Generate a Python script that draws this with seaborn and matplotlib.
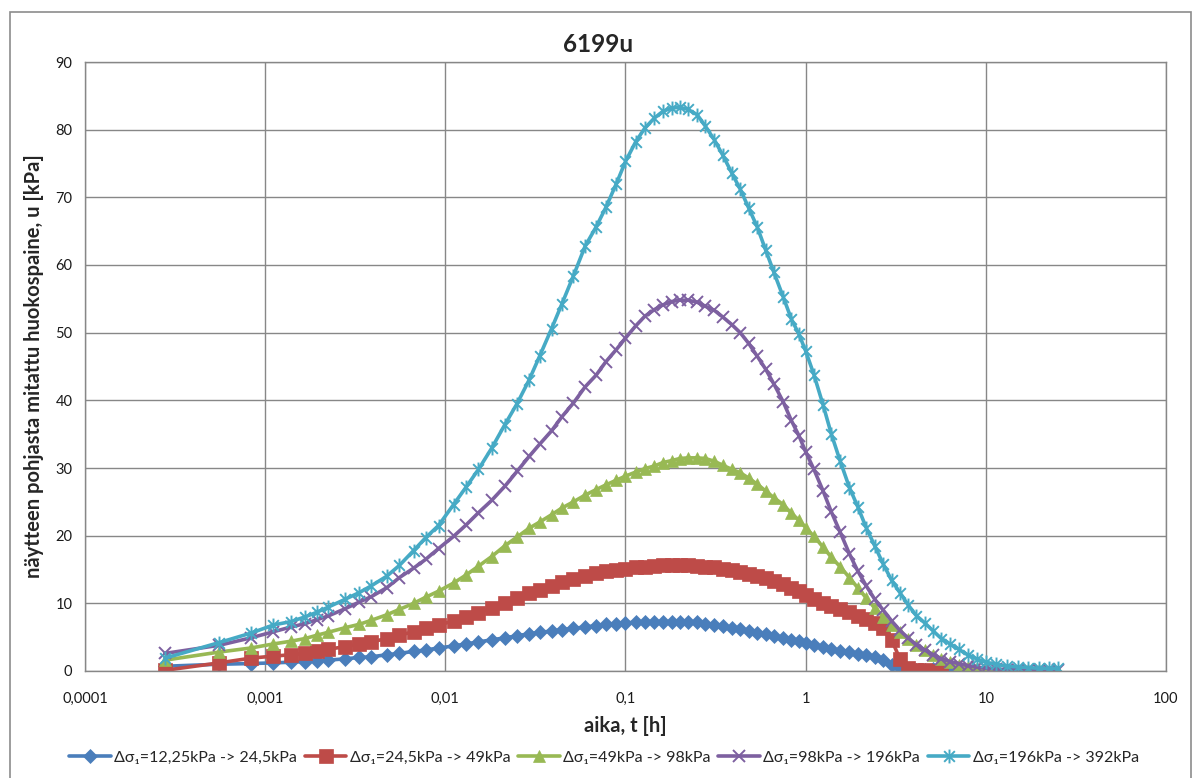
import numpy as np
import pandas as pd
import seaborn as sns
import matplotlib
matplotlib.use("Agg")
import matplotlib.pyplot as plt
from matplotlib.path import Path
from matplotlib.patches import Rectangle
from matplotlib.ticker import FixedLocator, FixedFormatter, NullLocator

# Logger time stamps [s]
time_s = [1, 2, 3, 4, 5, 6, 7, 8, 10, 12, 14, 17, 20, 24, 28, 33, 40, 47, 55, 65,
          77, 90, 105, 120, 140, 160, 185, 215, 247,
          280, 320, 360, 410, 460, 520, 580, 650, 720, 800, 900, 1000,
          1120, 1250, 1400, 1560, 1740, 1940, 2160, 2400, 2700, 3000, 3300, 3600,
          4000, 4500, 5000, 5600, 6300, 7000, 7800, 8700, 9700, 10800, 12000, 13300,
          14800, 16500, 18400, 20400, 22800, 25500, 28500, 32000, 36000, 41000, 47000, 54000,
          62000, 71000, 81000, 91000]

# Pore pressure at the sample base [kPa] for each load step
u_12_24 = [0.7, 1.0, 1.1, 1.2, 1.3, 1.4, 1.5, 1.6, 1.8, 2.0, 2.1, 2.4, 2.6, 2.9, 3.1, 3.4,
           3.7, 4.0, 4.3, 4.6, 4.9, 5.2, 5.5, 5.7, 5.9, 6.1, 6.3, 6.5, 6.7,
           6.9, 7.0, 7.1, 7.2, 7.3, 7.3, 7.3, 7.3, 7.3, 7.3, 7.2, 7.0,
           6.8, 6.6, 6.4, 6.2, 5.9, 5.6, 5.4, 5.1, 4.9, 4.6, 4.4, 4.2,
           3.9, 3.6, 3.3, 3.0, 2.8, 2.5, 2.3, 2.1, 1.6, 0.9, 0.5, 0.3,
           0.2, 0.2, 0.3, 0.2, 0.5, 0.2]
u_24_49 = [0.1, 1.2, 1.9, 2.2, 2.4, 2.6, 2.9, 3.2, 3.6, 4.0, 4.3, 4.8, 5.3, 5.8, 6.3, 6.8,
           7.4, 8.0, 8.6, 9.3, 10.1, 10.8, 11.5, 12.0, 12.6, 13.1, 13.6, 14.1, 14.5,
           14.8, 15.0, 15.1, 15.3, 15.4, 15.5, 15.6, 15.6, 15.6, 15.6, 15.5, 15.4,
           15.3, 15.1, 14.9, 14.7, 14.4, 14.1, 13.7, 13.3, 12.9, 12.3, 11.8, 11.3,
           10.7, 10.1, 9.6, 9.1, 8.7, 8.2, 7.7, 7.1, 6.3, 4.6, 1.8, 0.4,
           0.1, 0.1, 0.0, 0.0]
u_49_98 = [1.6, 2.8, 3.4, 4.0, 4.4, 4.8, 5.3, 5.7, 6.4, 6.9, 7.5, 8.3, 9.1, 10.0, 10.9, 11.8,
           13.0, 14.2, 15.5, 16.9, 18.5, 19.8, 21.1, 22.0, 23.1, 24.1, 25.0, 26.0, 26.8,
           27.5, 28.2, 28.8, 29.4, 29.9, 30.3, 30.8, 31.1, 31.4, 31.5, 31.5, 31.4,
           31.0, 30.4, 29.8, 29.3, 28.5, 27.6, 26.6, 25.6, 24.6, 23.3, 22.3, 21.2,
           19.9, 18.3, 16.8, 15.4, 13.8, 12.3, 10.8, 9.3, 8.0, 6.8, 5.7, 4.7,
           3.8, 3.1, 2.4, 1.8, 1.3, 0.9, 0.6, 0.4, 0.3, 0.2, 0.1, 0.1,
           0.1, 0.1, 0.0, 0.0]
u_98_196 = [2.6, 3.8, 4.9, 5.8, 6.5, 7.0, 7.6, 8.1, 9.2, 10.2, 11.0, 12.3, 13.8, 15.2, 16.5, 18.1,
            19.9, 21.6, 23.4, 25.2, 27.3, 29.5, 31.7, 33.5, 35.5, 37.6, 39.6, 42.0, 43.7,
            45.7, 47.5, 49.2, 51.0, 52.4, 53.4, 54.1, 54.6, 54.8, 54.8, 54.5, 53.9,
            53.3, 52.3, 51.2, 50.0, 48.4, 46.5, 44.6, 42.4, 39.8, 37.0, 34.8, 32.4,
            29.8, 26.6, 23.5, 20.5, 17.3, 14.8, 12.6, 10.6, 9.0, 7.4, 6.0, 4.9,
            3.9, 3.1, 2.4, 1.8, 1.4, 1.1, 0.8, 0.6, 0.4, 0.3, 0.2, 0.2,
            0.2, 0.1, 0.1, 0.1]
u_196_392 = [1.9, 4.2, 5.6, 6.8, 7.3, 8.0, 8.7, 9.4, 10.6, 11.6, 12.6, 14.0, 15.6, 17.8, 19.7, 21.5,
             24.6, 27.2, 29.8, 32.9, 36.4, 39.5, 43.0, 46.5, 50.6, 54.3, 58.4, 62.8, 65.6,
             68.5, 72.0, 75.3, 78.2, 80.2, 81.7, 82.7, 83.2, 83.3, 83.0, 82.2, 80.5,
             78.5, 76.2, 73.6, 71.2, 68.4, 65.6, 62.2, 58.9, 55.3, 52.0, 49.8, 47.3,
             43.8, 39.3, 35.0, 31.0, 27.1, 24.3, 21.2, 18.5, 15.8, 13.4, 11.6, 9.8,
             8.2, 7.1, 5.9, 4.8, 4.0, 3.2, 2.4, 1.8, 1.3, 1.0, 0.7, 0.6,
             0.5, 0.4, 0.4, 0.4]

labels = ["Δσ₁=12,25kPa -> 24,5kPa", "Δσ₁=24,5kPa -> 49kPa", "Δσ₁=49kPa -> 98kPa",
          "Δσ₁=98kPa -> 196kPa", "Δσ₁=196kPa -> 392kPa"]
series = [u_12_24, u_24_49, u_49_98, u_98_196, u_196_392]

x_ticks = [0.0001, 0.001, 0.01, 0.1, 1, 10, 100]
x_tick_labels = ["0,0001", "0,001", "0,01", "0,1", "1", "10", "100"]
y_ticks = [0, 10, 20, 30, 40, 50, 60, 70, 80, 90]

# Excel-like star marker: an "x" with a vertical stroke
star = Path([(-1, -1), (1, 1), (-1, 1), (1, -1), (0, -1.3), (0, 1.3)],
            [Path.MOVETO, Path.LINETO, Path.MOVETO, Path.LINETO, Path.MOVETO, Path.LINETO])

colors = ["#4A7EBB", "#BE4B48", "#98B954", "#7D60A0", "#46AAC5"]
markers = ["D", "s", "^", "x", star]
msizes = [7, 9.5, 8.5, 9, 10]


def is_filled(m):
    return m != "x" and not isinstance(m, Path)


sns.set_theme(style="white")
plt.rcParams["font.family"] = ["Lato", "DejaVu Sans"]

fig = plt.figure(figsize=(11.98, 7.78), dpi=100)
ax = fig.add_axes([85 / 1198, 1 - 671 / 778, (1166 - 85) / 1198, (671 - 62) / 778])

t_h = np.array(time_s, dtype=float) / 3600.0
for lab, u, c, m, ms in zip(labels, series, colors, markers, msizes):
    n = len(u)
    df = pd.DataFrame({"t": t_h[:n], "u": u})
    f = is_filled(m)
    sns.lineplot(data=df, x="t", y="u", ax=ax, color=c, linewidth=2.6,
                 marker=m, markersize=ms, markeredgewidth=0.5 if f else 1.4,
                 markeredgecolor=c, markerfacecolor=c if f else "none",
                 sort=False, estimator=None, legend=False)

ax.set_xscale("log")
ax.set_xlim(0.0001, 100)
ax.set_ylim(0, 90)
ax.xaxis.set_major_locator(FixedLocator(x_ticks))
ax.xaxis.set_major_formatter(FixedFormatter(x_tick_labels))
ax.xaxis.set_minor_locator(NullLocator())
ax.set_yticks(y_ticks)

grid_c = "#878787"
ax.grid(True, which="major", color=grid_c, linewidth=1.0)
ax.set_axisbelow(True)
for s in ax.spines.values():
    s.set_color(grid_c)
    s.set_linewidth(1.0)
ax.tick_params(axis="both", which="major", direction="out", length=5, width=1.0,
               color=grid_c, labelsize=10.5, labelcolor="#1a1a1a", pad=4)
ax.tick_params(axis="x", pad=10)

ax.set_xlabel("aika, t [h]", fontsize=14.5, fontweight="bold", labelpad=7)
ax.set_ylabel("näytteen pohjasta mitattu huokospaine, u [kPa]", fontsize=14.5,
              fontweight="bold", labelpad=8)
fig.text(598 / 1198, 1 - 45 / 778, "6199u", ha="center", va="center",
         fontsize=17.5, fontweight="bold")

handles = []
for lab, c, m, ms in zip(labels, colors, markers, msizes):
    f = is_filled(m)
    h, = ax.plot([], [], color=c, linewidth=2.6, marker=m, markersize=ms,
                 markeredgecolor=c, markerfacecolor=c if f else "none",
                 markeredgewidth=0.5 if f else 1.4, label=lab)
    handles.append(h)
fig.legend(handles=handles, loc="center", bbox_to_anchor=(604 / 1198, 1 - 758 / 778),
           ncol=5, frameon=False, fontsize=11.5, handlelength=2.6, handletextpad=0.2,
           columnspacing=0.5, borderpad=0)

# chart area border
fig.patches.append(Rectangle((10 / 1198, -0.05), (1191 - 10) / 1198, 1.05 - 12 / 778,
                             transform=fig.transFigure, fill=False, edgecolor="#8c8c8c",
                             linewidth=1.2))

fig.savefig("out.png", dpi=100)
